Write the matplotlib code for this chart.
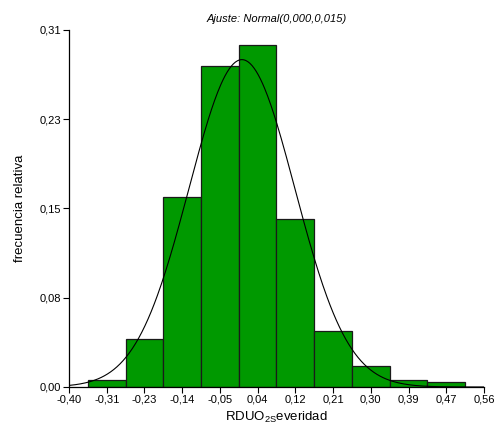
import numpy as np
import matplotlib
matplotlib.use("Agg")
import matplotlib.pyplot as plt

plt.rcParams['font.family'] = ['Liberation Sans', 'DejaVu Sans']
plt.rcParams['mathtext.fontset'] = 'custom'
plt.rcParams['mathtext.rm'] = 'Liberation Sans'

# histogram bins (relative frequency)
bin_start = -0.3564
bin_width = 0.08727
freq = [0.0064, 0.0415, 0.1651, 0.2787, 0.2967, 0.1460, 0.0484, 0.0180, 0.0064, 0.0047]

# fitted normal: mean, variance
fit_mean = 0.000
fit_var = 0.015

xticks = [-0.40, -0.3127, -0.2255, -0.1382, -0.0509, 0.0364, 0.1236, 0.2109, 0.2982, 0.3855, 0.4727, 0.56]
xticklabels = ['-0,40', '-0,31', '-0,23', '-0,14', '-0,05', '0,04', '0,12', '0,21',
               '0,30', '0,39', '0,47', '0,56']
yticks = [0.0, 0.0775, 0.155, 0.2325, 0.31]
yticklabels = ['0,00', '0,08', '0,15', '0,23', '0,31']


def main():
    fig = plt.figure(figsize=(4.95, 4.26), dpi=100)
    ax = fig.add_axes([69 / 495, 39 / 426, 415 / 495, 357 / 426])

    lefts = [bin_start + i * bin_width for i in range(len(freq))]
    ax.bar(lefts, freq, width=bin_width, align='edge', color='#009900',
           edgecolor='#1a1a1a', linewidth=0.9, zorder=2)

    sd = np.sqrt(fit_var)
    xs = np.linspace(-0.40, 0.56, 400)
    ys = bin_width * np.exp(-0.5 * ((xs - fit_mean) / sd) ** 2) / (sd * np.sqrt(2 * np.pi))
    ax.plot(xs, ys, color='black', linewidth=0.8, zorder=3)

    ax.set_xlim(-0.40, 0.56)
    ax.set_ylim(0, 0.31)
    ax.set_xticks(xticks)
    ax.set_xticklabels(xticklabels)
    ax.set_yticks(yticks)
    ax.set_yticklabels(yticklabels)
    ax.tick_params(labelsize=8, length=4, width=0.8, pad=1.5, direction='out')

    ax.spines['top'].set_visible(False)
    ax.spines['right'].set_visible(False)
    ax.spines['left'].set_linewidth(0.9)
    ax.spines['bottom'].set_linewidth(0.9)

    ax.set_title('Ajuste: Normal(0,000,0,015)', fontsize=8, style='italic', pad=6)
    ax.set_xlabel(r'RDUO$_{\mathrm{2S}}$everidad', fontsize=9.5, labelpad=4)
    ax.set_ylabel('frecuencia relativa', fontsize=9.5, labelpad=10)

    fig.savefig('out.png', dpi=100)


if __name__ == "__main__":
    main()
